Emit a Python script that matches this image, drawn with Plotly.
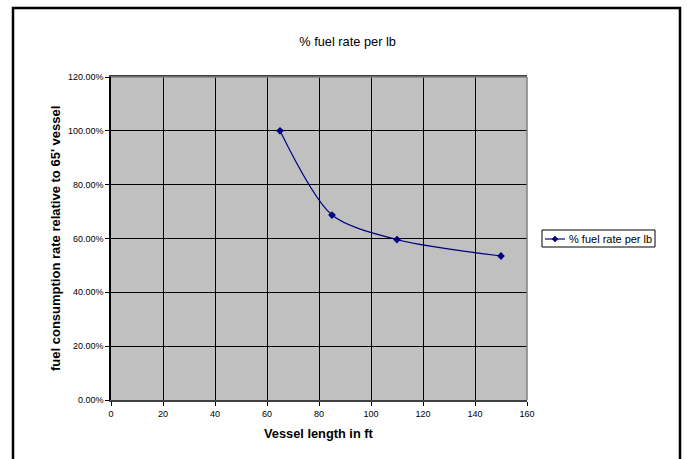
import plotly.graph_objects as go

# Vessel length (ft) and fuel rate relative to the 65' vessel
vessel_length = [65, 85, 110, 150]
fuel_rate = [1.00, 0.687, 0.596, 0.535]
series_name = "% fuel rate per lb"

x_ticks = [0, 20, 40, 60, 80, 100, 120, 140, 160]
y_ticks = [0.0, 0.2, 0.4, 0.6, 0.8, 1.0, 1.2]

W, H = 687, 459
L, R, T, B = 111, 160, 77, 59
pw, ph = W - L - R, H - T - B

def px_x(p):
    return (p - L) / pw

def px_y(p):
    return (H - B - p) / ph

FONT = "Liberation Sans, Arial, sans-serif"
NAVY = "#000080"

fig = go.Figure()
fig.add_trace(go.Scatter(
    x=vessel_length, y=fuel_rate, name=series_name,
    mode="lines+markers", showlegend=False,
    line=dict(color=NAVY, width=1.2, shape="spline", smoothing=0.8),
    marker=dict(symbol="diamond", size=6, color=NAVY),
))

fig.update_layout(
    width=W, height=H,
    margin=dict(l=L, r=R, t=T, b=B, pad=0),
    paper_bgcolor="white",
    plot_bgcolor="#C0C0C0",
    font=dict(family=FONT, size=9, color="black"),
    title=dict(text="% fuel rate per lb", x=0.506, xanchor="center",
               y=1 - 42 / H, yanchor="middle",
               font=dict(family=FONT, size=12.8, color="black")),
    showlegend=False,
)

fig.update_xaxes(
    range=[0, 160], tickvals=x_ticks, ticktext=[str(v) for v in x_ticks],
    showgrid=True, gridcolor="black", gridwidth=1,
    showline=True, linecolor="#404040", linewidth=1.5, mirror=True,
    ticks="outside", ticklen=4, tickcolor="black", tickwidth=1,
    tickfont=dict(family=FONT, size=9, color="black"),
    zeroline=False, fixedrange=True,
)
fig.update_yaxes(
    range=[0, 1.2], tickvals=y_ticks, tickformat=".2%",
    showgrid=True, gridcolor="black", gridwidth=1,
    showline=True, linecolor="black", linewidth=1.5, mirror=False,
    ticks="outside", ticklen=4, tickcolor="black", tickwidth=1,
    tickfont=dict(family=FONT, size=9, color="black"),
    zeroline=False, fixedrange=True,
)

# Top and right edges of the plot area
fig.add_shape(type="line", xref="paper", yref="paper", x0=0, x1=1, y0=1, y1=1,
              line=dict(color="#808080", width=1.5))
fig.add_shape(type="line", xref="paper", yref="paper", x0=1, x1=1, y0=0, y1=1,
              line=dict(color="#808080", width=1.5))

# Chart frame (open at the bottom)
fx0, fx1, fy_top, fy_bot = px_x(13), px_x(680), px_y(8), px_y(470)
fig.add_shape(type="path", xref="paper", yref="paper",
              path=f"M {fx0},{fy_bot} L {fx0},{fy_top} L {fx1},{fy_top} L {fx1},{fy_bot}",
              line=dict(color="black", width=2.5))

# Legend box: frame, line sample with diamond, and series label
lx0, lx1, ly0, ly1 = px_x(542), px_x(655), px_y(247), px_y(230)
ly_mid = px_y(239)
fig.add_shape(type="rect", xref="paper", yref="paper", x0=lx0, x1=lx1, y0=ly0, y1=ly1,
              fillcolor="white", line=dict(color="black", width=1))
fig.add_shape(type="line", xref="paper", yref="paper",
              x0=px_x(545), x1=px_x(565), y0=ly_mid, y1=ly_mid,
              line=dict(color=NAVY, width=1.2))
dx, dy = 3 / pw, 3 / ph
cx = px_x(555)
fig.add_shape(type="path", xref="paper", yref="paper",
              path=f"M {cx},{ly_mid + dy} L {cx + dx},{ly_mid} L {cx},{ly_mid - dy} L {cx - dx},{ly_mid} Z",
              fillcolor=NAVY, line=dict(color=NAVY, width=0.5))
fig.add_annotation(text=series_name, xref="paper", yref="paper",
                   x=px_x(567), y=ly_mid, xanchor="left", yanchor="middle",
                   showarrow=False, font=dict(family=FONT, size=11, color="black"))

# Axis titles
fig.add_annotation(text="<b>Vessel length in ft</b>", xref="paper", yref="paper",
                   x=0.5, y=px_y(433), xanchor="center", yanchor="middle",
                   showarrow=False, font=dict(family=FONT, size=12.8, color="black"))
fig.add_annotation(text="<b>fuel consumption rate relative to 65' vessel</b>",
                   xref="paper", yref="paper", x=px_x(55), y=px_y(239),
                   xanchor="center", yanchor="middle", textangle=-90,
                   showarrow=False, font=dict(family=FONT, size=13, color="black"))

fig.write_html("out.html", config={"displayModeBar": False})
